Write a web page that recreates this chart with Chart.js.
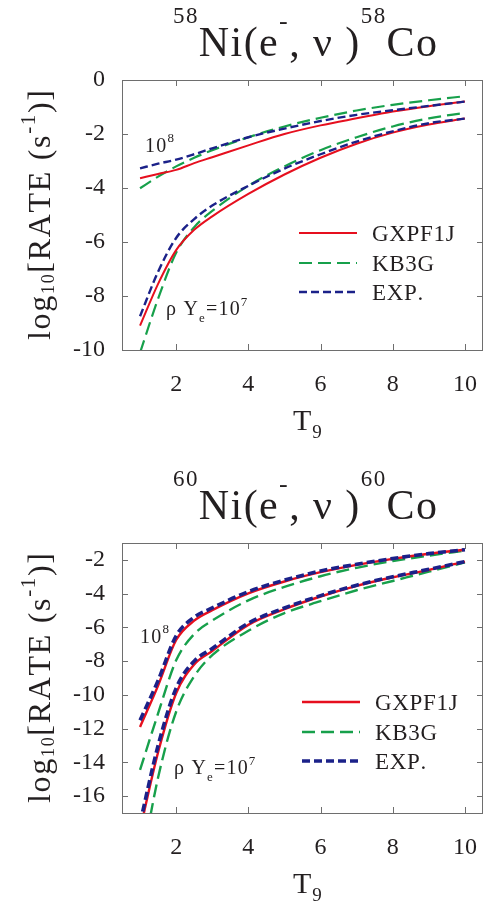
<!DOCTYPE html>
<html>
<head>
<meta charset="utf-8">
<script src="https://cdn.jsdelivr.net/npm/chart.js@4.4.1/dist/chart.umd.min.js"></script>
<style>
    html, body { margin: 0; padding: 0; background: #ffffff; }
    .panel { position: relative; width: 497px; }
    #top { height: 460px; }
    #bottom { height: 441px; }
</style>
</head>
<body>
<div class="panel" id="top"><canvas id="ni58"></canvas></div>
<div class="panel" id="bottom"><canvas id="ni60"></canvas></div>
<script>
// temperature grid (T9) and tick labels
const T9 = [1, 1.5, 2, 2.5, 3, 4, 5, 6, 7, 8, 9, 10];
const xTicks = [2, 4, 6, 8, 10];
const ni58Ticks = [0, -2, -4, -6, -8, -10];
const ni60Ticks = [-2, -4, -6, -8, -10, -12, -14, -16];
const models = ['GXPF1J', 'KB3G', 'EXP.'];

// 58Ni(e-,v)58Co, log10 rate, rho*Ye = 1e8
const ni58_gxpf1j_1e8 = [-3.64, -3.48, -3.33, -3.08, -2.86, -2.42, -2.00, -1.68, -1.42, -1.17, -0.97, -0.80];
const ni58_kb3g_1e8   = [-4.01, -3.58, -3.20, -2.88, -2.60, -2.12, -1.72, -1.40, -1.13, -0.92, -0.75, -0.60];
const ni58_exp_1e8    = [-3.27, -3.10, -2.95, -2.75, -2.53, -2.12, -1.80, -1.52, -1.29, -1.12, -0.96, -0.80];
// rho*Ye = 1e7
const ni58_gxpf1j_1e7 = [-9.10, -7.55, -6.30, -5.55, -5.05, -4.22, -3.50, -2.88, -2.36, -1.95, -1.65, -1.43];
const ni58_kb3g_1e7   = [-10.1, -8.10, -6.40, -5.45, -4.85, -3.92, -3.20, -2.60, -2.12, -1.72, -1.42, -1.22];
const ni58_exp_1e7    = [-8.75, -7.10, -5.85, -5.15, -4.65, -3.92, -3.28, -2.75, -2.28, -1.90, -1.60, -1.43];

// 60Ni(e-,v)60Co, rho*Ye = 1e8
const ni60_gxpf1j_1e8 = [-11.9, -9.45, -6.75, -5.60, -4.98, -3.98, -3.28, -2.73, -2.30, -1.94, -1.64, -1.40];
const ni60_kb3g_1e8   = [-14.45, -11.1, -7.95, -6.40, -5.60, -4.40, -3.60, -2.97, -2.47, -2.07, -1.75, -1.45];
const ni60_exp_1e8    = [-11.5, -9.15, -6.50, -5.40, -4.85, -3.88, -3.20, -2.66, -2.26, -1.92, -1.63, -1.40];
// rho*Ye = 1e7
const ni60_gxpf1j_1e7 = [-18.0, -13.4, -9.90, -8.20, -7.40, -5.85, -4.92, -4.17, -3.54, -3.03, -2.59, -2.10];
const ni60_kb3g_1e7   = [-20.5, -14.9, -11.0, -8.90, -7.65, -6.20, -5.15, -4.45, -3.80, -3.25, -2.70, -2.15];
const ni60_exp_1e7    = [-17.6, -13.0, -9.60, -8.00, -7.25, -5.75, -4.85, -4.12, -3.50, -3.00, -2.56, -2.10];

const SERIF = '"Liberation Serif", "Times New Roman", serif';
const INK = '#231f20';
const RED = '#e60f1e';
const GREEN = '#17a04b';
const BLUE = '#1b2189';

function pts(ys) {
    return T9.map((x, i) => ({ x: x, y: ys[i] }));
}

function line(ys, color, dash, width) {
    return {
        data: pts(ys),
        borderColor: color,
        borderDash: dash,
        borderWidth: width,
        pointRadius: 0,
        fill: false,
        cubicInterpolationMode: 'monotone'
    };
}

// rich text: list of {t, size, dy}, drawn char by char with extra gap
function richWidth(ctx, segs, gap) {
    let w = 0;
    segs.forEach(s => {
        ctx.font = s.size + 'px ' + SERIF;
        for (const ch of s.t) w += ctx.measureText(ch).width + gap;
    });
    return w - gap;
}

function drawRich(ctx, segs, x, y, gap) {
    segs.forEach(s => {
        ctx.font = s.size + 'px ' + SERIF;
        for (const ch of s.t) {
            ctx.fillText(ch, x, y + (s.dy || 0));
            x += ctx.measureText(ch).width + gap;
        }
    });
}

function countChars(segs) {
    return segs.reduce((n, s) => n + [...s.t].length, 0);
}

// frame, inward tick marks, titles, labels and legend
const decor = {
    id: 'decor',
    afterDraw(chart, args, opts) {
        const ctx = chart.ctx;
        const a = chart.chartArea;
        const xs = chart.scales.x, ys = chart.scales.y;
        ctx.save();

        // frame
        ctx.strokeStyle = '#6e6e6e';
        ctx.lineWidth = 1;
        ctx.strokeRect(a.left + 0.5, a.top + 0.5, a.right - a.left - 1, a.bottom - a.top);
        ctx.beginPath();
        xs.ticks.forEach(t => {
            const px = Math.round(xs.getPixelForValue(t.value)) + 0.5;
            ctx.moveTo(px, a.bottom); ctx.lineTo(px, a.bottom - 6);
            ctx.moveTo(px, a.top); ctx.lineTo(px, a.top + 6);
        });
        ys.ticks.forEach(t => {
            const py = Math.round(ys.getPixelForValue(t.value)) + 0.5;
            ctx.moveTo(a.left, py); ctx.lineTo(a.left + 6, py);
            ctx.moveTo(a.right, py); ctx.lineTo(a.right - 6, py);
        });
        ctx.stroke();

        ctx.fillStyle = INK;
        ctx.textBaseline = 'alphabetic';
        ctx.textAlign = 'left';

        // chart title, fitted to its width
        const tGap = (264 - richWidth(ctx, opts.title, 0)) / (countChars(opts.title) - 1);
        drawRich(ctx, opts.title, opts.titleX, a.top - 24, tGap);

        // x axis title
        drawRich(ctx, [{ t: 'T', size: 30 }, { t: '9', size: 19, dy: 8 }], 293, a.bottom + 80, 1);

        // y axis title, rotated and fitted to its length
        const ySegs = [
            { t: 'log', size: 32 },
            { t: '10', size: 18, dy: 4 },
            { t: '[RATE (s', size: 32 },
            { t: '-1', size: 21, dy: -15 },
            { t: ')]', size: 32 }
        ];
        const natural = richWidth(ctx, ySegs, 0);
        const gap = (250 - natural) / (countChars(ySegs) - 1);
        const midY = (a.top + a.bottom) / 2;
        ctx.save();
        ctx.translate(50, midY + 125);
        ctx.rotate(-Math.PI / 2);
        drawRich(ctx, ySegs, 0, 0, gap);
        ctx.restore();

        // density labels
        opts.notes.forEach(n => drawRich(ctx, n.segs, n.x, n.y, 1.2));

        // legend
        const lg = opts.legend;
        const ds = chart.data.datasets;
        models.forEach((m, i) => {
            const st = ds.find(d => d.label === m);
            const y = lg.ys[i];
            ctx.save();
            ctx.strokeStyle = st.borderColor;
            ctx.lineWidth = st.borderWidth;
            ctx.setLineDash(st.borderDash);
            ctx.beginPath();
            ctx.moveTo(lg.x1, y);
            ctx.lineTo(lg.x2, y);
            ctx.stroke();
            ctx.restore();
            drawRich(ctx, [{ t: m, size: 23 }], lg.tx, y + 8, 0.7);
        });

        ctx.restore();
    }
};

function note8() {
    return [{ t: '10', size: 20 }, { t: '8', size: 13, dy: -10 }];
}
function note7() {
    return [
        { t: 'ρ Y', size: 20 },
        { t: 'e', size: 13, dy: 7 },
        { t: '=10', size: 20 },
        { t: '7', size: 13, dy: -9 }
    ];
}

function titleSegs(mass) {
    return [
        { t: mass, size: 23, dy: -33 }, { t: 'Ni(e', size: 42 }, { t: '-', size: 26, dy: -27 },
        { t: ', ν )', size: 42 }, { t: mass, size: 23, dy: -33 }, { t: 'Co', size: 42 }
    ];
}

function makeChart(canvasId, cfg) {
    const w = cfg.widths;
    const datasets = [
        Object.assign(line(cfg.exp8, BLUE, [8, 4], w.exp), { label: 'EXP.' }),
        line(cfg.exp7, BLUE, [8, 4], w.exp),
        Object.assign(line(cfg.gx8, RED, [], w.gx), { label: 'GXPF1J' }),
        line(cfg.gx7, RED, [], w.gx),
        Object.assign(line(cfg.kb8, GREEN, [13, 6], w.kb), { label: 'KB3G' }),
        line(cfg.kb7, GREEN, [13, 6], w.kb)
    ];
    const tickFont = { family: SERIF, size: 24 };
    return new Chart(document.getElementById(canvasId), {
        type: 'line',
        data: { datasets: datasets },
        options: {
            responsive: true,
            maintainAspectRatio: false,
            animation: false,
            layout: { padding: { top: cfg.top, right: 1, left: 0, bottom: 0 } },
            plugins: {
                legend: { display: false },
                tooltip: { enabled: false },
                decor: cfg.decor
            },
            scales: {
                x: {
                    type: 'linear',
                    min: 0.5,
                    max: 10.5,
                    afterBuildTicks: s => { s.ticks = xTicks.map(v => ({ value: v })); },
                    afterFit: s => { s.height = cfg.xHeight; },
                    grid: { display: false, drawTicks: false },
                    border: { display: false },
                    ticks: { padding: 20, autoSkip: false, maxRotation: 0, font: tickFont, color: INK }
                },
                y: {
                    type: 'linear',
                    min: cfg.yMin,
                    max: cfg.yMax,
                    afterBuildTicks: s => { s.ticks = cfg.yTicks.map(v => ({ value: v })); },
                    afterFit: s => { s.width = 122; },
                    grid: { display: false, drawTicks: false },
                    border: { display: false },
                    ticks: { padding: 17, autoSkip: false, font: tickFont, color: INK }
                }
            }
        },
        plugins: [decor]
    });
}

makeChart('ni58', {
    gx8: ni58_gxpf1j_1e8, kb8: ni58_kb3g_1e8, exp8: ni58_exp_1e8,
    gx7: ni58_gxpf1j_1e7, kb7: ni58_kb3g_1e7, exp7: ni58_exp_1e7,
    widths: { gx: 2, kb: 2.2, exp: 2.4 },
    top: 80, xHeight: 110,
    yMin: -10, yMax: 0, yTicks: ni58Ticks,
    decor: {
        titleX: 173,
        title: titleSegs('58'),
        notes: [
            { segs: note8(), x: 145, y: 152 },
            { segs: note7(), x: 166, y: 315 }
        ],
        legend: { x1: 299, x2: 357, tx: 372, ys: [233, 263, 292] }
    }
});

makeChart('ni60', {
    gx8: ni60_gxpf1j_1e8, kb8: ni60_kb3g_1e8, exp8: ni60_exp_1e8,
    gx7: ni60_gxpf1j_1e7, kb7: ni60_kb3g_1e7, exp7: ni60_exp_1e7,
    widths: { gx: 2.4, kb: 2.4, exp: 3.6 },
    top: 83, xHeight: 88,
    yMin: -17, yMax: -1, yTicks: ni60Ticks,
    decor: {
        titleX: 173,
        title: titleSegs('60'),
        notes: [
            { segs: note8(), x: 140, y: 183 },
            { segs: note7(), x: 174, y: 314 }
        ],
        legend: { x1: 302, x2: 360, tx: 375, ys: [242, 272, 301] }
    }
});
</script>
</body>
</html>
